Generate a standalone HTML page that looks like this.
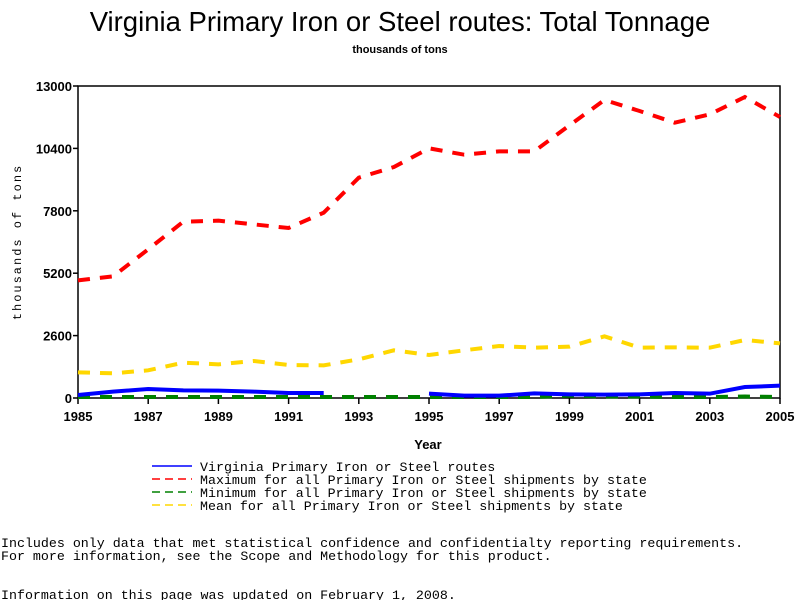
<!DOCTYPE html>
<html><head><meta charset="utf-8"><style>
body{margin:0;background:#fff;width:800px;height:600px;overflow:hidden;}
svg{display:block;}
.mono{font-family:"Liberation Mono","DejaVu Sans Mono",monospace;}
</style></head><body>
<svg id="chart" width="800" height="600" viewBox="0 0 800 600">
<text x="400" y="31" text-anchor="middle" font-family="Liberation Sans, sans-serif" font-size="27.5">Virginia Primary Iron or Steel routes: Total Tonnage</text>
<text x="400" y="53" text-anchor="middle" font-family="Liberation Sans, sans-serif" font-size="11" font-weight="bold">thousands of tons</text>
<g id="axes"></g>
<g id="series"></g>
<text x="428" y="449" text-anchor="middle" font-family="Liberation Sans, sans-serif" font-size="13" font-weight="bold">Year</text>
<text transform="translate(21,242) rotate(-90)" text-anchor="middle" class="mono" font-size="12" letter-spacing="2">thousands of tons</text>
<g class="mono" font-size="13.3">
 <g><line x1="152" y1="466" x2="192" y2="466" stroke="#0000ff" stroke-width="1.5"/><text x="200" y="471">Virginia Primary Iron or Steel routes</text></g>
 <g><line x1="152" y1="479" x2="192" y2="479" stroke="#ff0000" stroke-width="1.5" stroke-dasharray="8,5"/><text x="200" y="484">Maximum for all Primary Iron or Steel shipments by state</text></g>
 <g><line x1="152" y1="492" x2="192" y2="492" stroke="#008000" stroke-width="1.5" stroke-dasharray="8,5"/><text x="200" y="497">Minimum for all Primary Iron or Steel shipments by state</text></g>
 <g><line x1="152" y1="505" x2="192" y2="505" stroke="#ffd700" stroke-width="1.5" stroke-dasharray="8,5"/><text x="200" y="510">Mean for all Primary Iron or Steel shipments by state</text></g>
</g>
<g class="mono" font-size="13.3">
 <text x="1" y="547">Includes only data that met statistical confidence and confidentialty reporting requirements.</text>
 <text x="1" y="560">For more information, see the Scope and Methodology for this product.</text>
 <text x="1" y="599">Information on this page was updated on February 1, 2008.</text>
</g>
</svg>
<script>
const years=[1985,1986,1987,1988,1989,1990,1991,1992,1993,1994,1995,1996,1997,1998,1999,2000,2001,2002,2003,2004,2005];
const maxVals=[4903,5070,6195,7347,7389,7236,7083,7722,9180,9625,10403,10139,10278,10278,11361,12417,11958,11472,11819,12542,11708];
const meanVals=[1069,1028,1153,1472,1403,1542,1375,1361,1611,1986,1792,1986,2167,2097,2139,2569,2097,2111,2097,2417,2278];
const vaVals=[125,264,375,319,305,264,208,208,null,null,180,97,97,194,153,139,153,208,180,458,514];
const minVals=[40,40,40,40,40,40,40,40,40,40,40,40,40,40,100,60,60,40,40,60,40];
const yTicks=[0,2600,5200,7800,10400,13000];
const xTicks=[1985,1987,1989,1991,1993,1995,1997,1999,2001,2003,2005];
const X0=78,X1=780,Y0=398,Y1=86;
const xs=v=>X0+(v-1985)/(2005-1985)*(X1-X0);
const ys=v=>Y0-(v/13000)*(Y0-Y1);
const NS="http://www.w3.org/2000/svg";
function mk(tag,attrs,parent){const e=document.createElementNS(NS,tag);for(const k in attrs)e.setAttribute(k,attrs[k]);parent.appendChild(e);return e;}
const ax=document.getElementById('axes');
const frame=mk('rect',{x:X0,y:Y1,width:X1-X0,height:Y0-Y1,fill:'none',stroke:'#000','stroke-width':1.5},ax);


yTicks.forEach(v=>{
 const t=mk('line',{x1:X0-5,x2:X0,y1:ys(v),y2:ys(v),stroke:'#000','stroke-width':1.5},ax);
 
 
 const l=mk('text',{x:X0-6,y:ys(v)+5,'text-anchor':'end','font-family':'Liberation Sans, sans-serif','font-size':13,'font-weight':'bold'},ax);
 l.textContent=v;
 
 
});
xTicks.forEach(v=>{
 const t=mk('line',{x1:xs(v),x2:xs(v),y1:Y0,y2:Y0+6,stroke:'#000','stroke-width':1.5},ax);
 
 
 const l=mk('text',{x:xs(v),y:Y0+23,'text-anchor':'middle','font-family':'Liberation Sans, sans-serif','font-size':13,'font-weight':'bold'},ax);
 l.textContent=v;
 
 
});
const sg=document.getElementById('series');
function draw(vals,color,dash,name){
 let segs=[],cur=[];
 vals.forEach((v,i)=>{if(v==null){if(cur.length)segs.push(cur);cur=[];}else cur.push(xs(years[i])+','+ys(v));});
 if(cur.length)segs.push(cur);
 segs.forEach(s=>{
  const p=mk('polyline',{points:s.join(' '),fill:'none',stroke:color,'stroke-width':4,'stroke-dasharray':dash},sg);
  
  
 });
}
draw(minVals,'#008000','12,10','series-minimum-line');
draw(meanVals,'#ffd700','12,10','series-mean-line');
draw(maxVals,'#ff0000','12,10','series-maximum-line');
draw(vaVals,'#0000ff','none','series-virginia-line');
</script>
</body></html>
